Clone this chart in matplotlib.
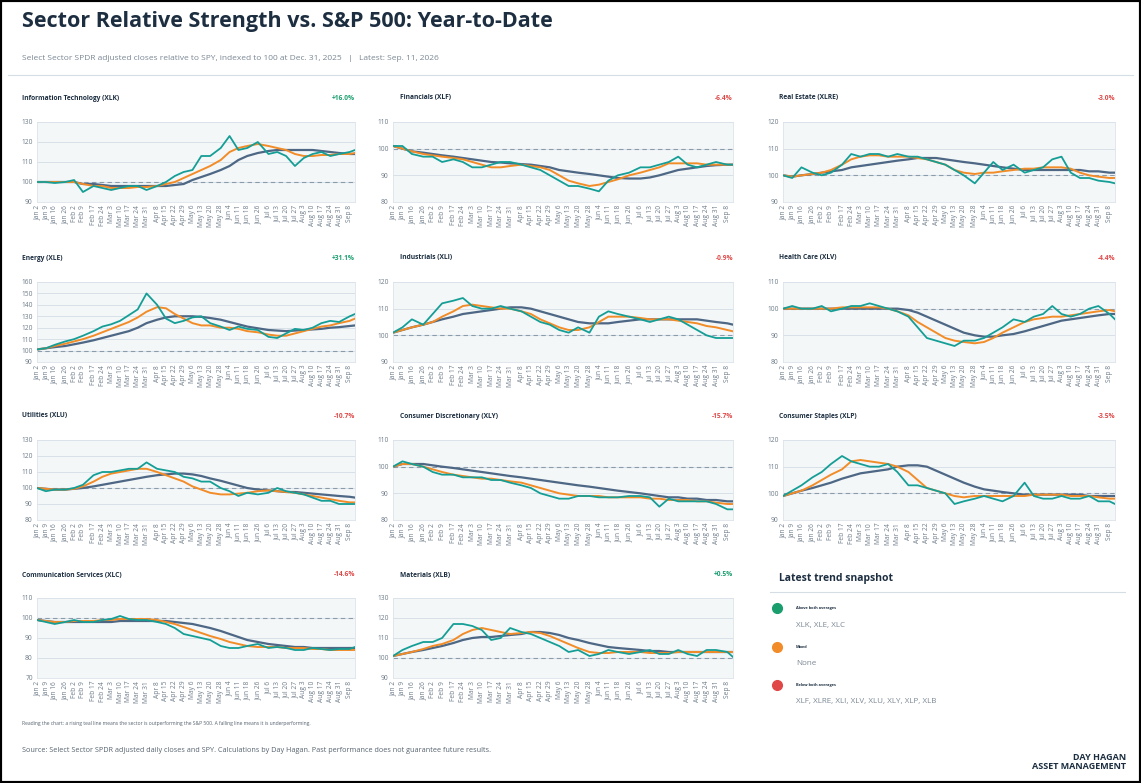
import matplotlib.pyplot as plt
import numpy as np
import pandas as pd

dates = ["2026-01-02", "2026-01-09", "2026-01-16", "2026-01-26", "2026-02-02", "2026-02-09",
         "2026-02-17", "2026-02-24", "2026-03-03", "2026-03-10", "2026-03-17", "2026-03-24",
         "2026-03-31", "2026-04-08", "2026-04-15", "2026-04-22", "2026-04-29", "2026-05-06",
         "2026-05-13", "2026-05-20", "2026-05-28", "2026-06-04", "2026-06-11", "2026-06-18",
         "2026-06-26", "2026-07-06", "2026-07-13", "2026-07-20", "2026-07-27", "2026-08-03",
         "2026-08-10", "2026-08-17", "2026-08-24", "2026-08-31", "2026-09-08", "2026-09-11"]
tick_dates = dates[:-1]

names = ["Information Technology (XLK)", "Financials (XLF)", "Real Estate (XLRE)",
         "Energy (XLE)", "Industrials (XLI)", "Health Care (XLV)",
         "Utilities (XLU)", "Consumer Discretionary (XLY)", "Consumer Staples (XLP)",
         "Communication Services (XLC)", "Materials (XLB)"]
ytd = ["+16.0%", "-6.4%", "-3.0%", "+31.1%", "-0.9%", "-4.4%", "-10.7%", "-15.7%", "-3.5%",
       "-14.6%", "+0.5%"]
ylims = [(90, 130), (80, 110), (90, 120), (90, 160), (90, 120), (80, 110),
         (80, 130), (80, 110), (90, 120), (70, 110), (90, 130)]

ratio = [
    [100,100,99.5,100,101,95,98,97,96,97,98,98,96,98,100,103,105,106,113,113,117,123,116,117,120,114,115,113,108,112,114,115,113,114,115,116],
    [101,101,98,97,97,95,96,95,93,93,94,95,95,94,93,92,90,88,86,86,85,84,88,90,91,93,93,94,95,97,94,93,94,95,94,94],
    [100,99,103,101,100,101,104,108,107,108,108,107,108,107,107,106,105,104,102,100,97,101,105,102,104,101,102,103,106,107,101,99,99,98,97.5,97],
    [101,102,105,108,110,113,117,121,123,126,131,136,150,140,128,124,126,129,130,124,121,118,121,119,118,112,111,115,119,118,120,124,126,125,130,132],
    [101,103,106,104,108,112,113,114,111,110,110,111,110,109,107,105,104,102,101,103,101,107,109,108,107,106,105,106,107,106,104,102,100,99,99,99],
    [100,101,100,100,101,99,100,101,101,102,101,100,99,97,93,89,88,87,86,88,88,89,91,93,96,95,97,98,101,98,97,98,100,101,98,96],
    [100,98,99,99,100,102,108,110,110,111,112,112,116,112,111,110,107,106,104,104,100,98,95,97,96,97,100,98,97,96,94,92,92,90,90,90],
    [100,102,101,100,98,97,97,96,96,96,95,95,94,93,92,90,89,88,88,89,89,88.5,88.5,88.5,89,89,88.5,85,88,87,87,87,87,86,84,84],
    [99,101,103,106,108,111,114,112,111,110,110,111,108,103,103,102,101,100,96,97,98,99,98,97,99,104,99,98,98,99,98,98,99,97,97,96],
    [99,98,97,98,99,98,98,99,99.5,101,99.5,99,99,98,97,95,92,91,90,89,86,85,85,86,87,85,85.5,85,84,84,85,84.5,84,84.5,84.5,85.5],
    [101,104,106,108,108,110,117,117,116,114,109,110,115,113,112,110,108,106,103,104,101,102,104,103,102,103,104,102,102,104,102,101,104,104,103,100.5],
]
ma_fast = [
    [100,100,100,100,100,99,98,98,97,97,97,97.5,97.5,98,99,100,102,104,106,108,111,115,117,118,119,118,117,116,114,113,113,113.5,113.5,114,114,114.5],
    [101,100,99,98,97.5,97,96.5,96,95,94,93,93,93.5,94,93.5,93,92,90,88,87,86,86.5,87.5,88.5,90,91,92,93,94.5,94.5,94.5,94.5,94,94,94,94],
    [100,99.5,100,100.5,101,102,104,106,107,107.5,107.5,107,107,107,106.5,106,105,104,102,101,100.5,101,101,101.5,102,102.5,102.5,103,103,103,102.5,101,100,99.5,99,99],
    [101,102,104,106,108,110,113,116,119,122,125,129,134,138,137,132,128,124,122,122,120,120,119,117,116,114,113,113,115,117,119,121,122,124,126,128],
    [101,102,103,104,105,107,109,111,111.5,111,110.5,110,110,109,108,106,104.5,103,102,102,103,105,107,107,107,106.5,106,106,106,105.5,105,104.5,103.5,103,102,101.5],
    [100,100,100,100,100,100,100.5,100.5,100.5,100.5,100.5,100,99,97.5,95,93,91,89,88,87.5,87,87.5,89,91,93,95,96,96.5,97,97,97.5,98,98.5,99,99.5,99],
    [100,99.5,99,99,99.5,101,104,107,109,110,111,112,112,110,108,106,104,101,99,97,96,96,96.5,97,98,98.5,98,97.5,97,96,95,94,93,92,91,91],
    [100,101,101,100,99,98,97,96.5,96,95.5,95.5,95,94.5,94,93,92,91,90,89.5,89,89,89,88.5,88.5,88.5,88.5,88,88,87.5,87.5,87.5,87,87,86.5,86,86],
    [99,100,101,103,105,107,109,112,112.5,112,111.5,111,110,108,105,102,101,100,99,98.5,99,99,99,99,99,99,99.5,99.5,99.5,99.5,99,99,99,98.5,98,98],
    [99,98.5,98,98,98.5,98.5,98.5,99,99,99.5,99.5,99.5,99.5,99,98,97,95.5,94,92.5,91,89.5,88,87,86,85.5,85.5,85.5,85,85,85,84.5,84.5,84,84,84,84],
    [101,102,103,104.5,106,107,109,112,114,115,114,113,112,112.5,113,112.5,111,109,107,105,103,102.5,102.5,103,103,103,102.5,102.5,102.5,103,103,103,103,103,103,103],
]
ma_slow = [
    [100,100,100,100,100,99,99,98.5,98,98,98,98,98,98,98,98.5,99,101,102.5,104,106,108,111,113,114.5,115.5,116,116,116,116,116,115.5,115,114.5,114,114],
    [101,100,99,98.5,98,97.5,97,96.5,96,95.5,95,94.8,94.5,94.2,94,93.5,93,92,91.5,91,90.5,90,89.5,89,88.8,88.8,89.2,90,91,92,92.5,93,93.5,93.8,94,94],
    [100,99.5,100,100.5,101,101.5,102,103,103.5,104,104.5,105,105.5,106,106.5,106.5,106.5,106,105.5,105,104.5,104,103.5,103,102.5,102,102,102,102,102,102,102,101.5,101.5,101,101],
    [101,102,103,104,105.5,107,109,111,113,115,117,120,124,127,129,130,130,130,129.5,128.5,127,125,123,121,119.5,118,117.5,117,117.5,118,118.5,119,120,120.5,121.5,122],
    [101,102,103,104,105,106,107,108,108.5,109,109.5,110,110.5,110.5,110,109,108,107,106,105,104.5,104.5,104.5,105,105.5,106,106,106,106,106,106,106,105.5,105,104.5,104],
    [100,100,100,100,100,100,100,100,100,100,100,100,100,99.5,98.5,97,95.5,94,92.5,91,90,89.5,89.5,90,90.5,91.5,92.5,93.5,94.5,95.5,96,96.5,97,97.5,98,98],
    [100,99.5,99,99,99.5,100,101,102,103,104,105,106,107,108,108.5,109,109,108.5,107.5,106,104.5,103,101.5,100,99,98.5,98,97.5,97.5,97,96.5,96,95.5,95,94.5,94],
    [100,101,101,101,100.5,100,99.5,99,98.5,98,97.5,97,96.5,96,95.5,95,94.5,94,93.5,93,92.5,92,91.5,91,90.5,90,89.5,89,88.5,88.5,88,88,87.5,87.5,87,87],
    [99,100,101,102,103,104,105.5,106.5,107.5,108,108.5,109,110,110.5,110.5,110,108.5,107,105.5,104,102.5,101.5,101,100.5,100,99.5,99.5,99.5,99.5,99.5,99.5,99.5,99,99,99,99],
    [99,98.5,98,98,98,98,98,98,98,98.5,98.5,98.5,98.5,98.5,98.5,98,97.5,97,96,95,93.5,92,90.5,89,88,87,86.5,86,85.5,85.5,85,85,85,85,85,85],
    [101,102,103,104,105,106,107.5,109,110,110.5,110.5,111,111.5,112,113,113,112.5,111.5,110,109,107.5,106.5,105.5,105,104.5,104,103.5,103.5,103,103,103,103,103,103,103,103],
]

snap_groups = ["Above both averages", "Mixed", "Below both averages"]
snap_members = ["XLK, XLE, XLC", "None", "XLF, XLRE, XLI, XLV, XLU, XLY, XLP, XLB"]

TEAL, ORANGE, NAVY = "#159e96", "#f28c28", "#4d6785"
DARK = "#1c2e40"
GREEN, RED = "#1a9e6e", "#e04848"
plt.rcParams['font.family'] = ['Open Sans', 'DejaVu Sans']

W, H = 1141, 783
fig = plt.figure(figsize=(W / 100, H / 100), dpi=100)
fig.patches.append(plt.Rectangle((0, 0), 1, 1, transform=fig.transFigure, fill=False,
                                 edgecolor="black", linewidth=3))

def fx(px):
    return px / W

def fy(py):
    return 1 - py / H

fig.text(fx(22), fy(22), "Sector Relative Strength vs. S&P 500: Year-to-Date", fontsize=15.5,
         fontweight="bold", color=DARK, va="center")
fig.text(fx(22), fy(58), "Select Sector SPDR adjusted closes relative to SPY, indexed to 100 at Dec. 31, 2025   |   Latest: Sep. 11, 2026",
         fontsize=6, color="#7a8794", va="center")
fig.add_artist(plt.Line2D([fx(8), fx(1133)], [fy(75), fy(75)], color="#d5dde5", lw=0.8))

# trading-day positions so the weekly ticks sit evenly like the source
d = np.array(dates, dtype="datetime64[D]")
x = np.busday_count(d[0], d)
tick_x = x[:-1]
tick_labels = [pd.Timestamp(t).strftime("%b ") + str(pd.Timestamp(t).day) for t in tick_dates]

col_left = [37, 393, 783]
col_right = [355, 733, 1115]
title_left = [22, 400, 779]
row_top = [122, 282, 440, 598]
row_title = [98, 258, 416, 575]
ax_h = 80

for i, name in enumerate(names):
    r, c = divmod(i, 3)
    ax = fig.add_axes([fx(col_left[c]), fy(row_top[r] + ax_h), fx(col_right[c] - col_left[c]), ax_h / H])
    ax.set_facecolor("#f3f7f8")
    ax.axhline(100, color="#8a9bab", lw=0.8, ls=(0, (4, 3)), zorder=1)
    ax.plot(x, ma_slow[i], color=NAVY, lw=1.6, zorder=2)
    ax.plot(x, ma_fast[i], color=ORANGE, lw=1.4, zorder=3)
    ax.plot(x, ratio[i], color=TEAL, lw=1.3, zorder=4)
    lo, hi = ylims[i]
    ax.set_ylim(lo, hi)
    ax.set_yticks(range(lo, hi + 1, 10))
    ax.set_xlim(x[0], x[-1])
    ax.set_xticks(tick_x)
    ax.set_xticklabels(tick_labels)
    ax.tick_params(axis="x", labelrotation=90, labelsize=4.8, colors="#6d7b89", length=0, pad=2)
    ax.tick_params(axis="y", labelsize=4.8, colors="#6d7b89", length=0, pad=3)
    ax.grid(axis="y", color="#d9e1e8", lw=0.7)
    ax.set_axisbelow(True)
    for s in ax.spines.values():
        s.set_color("#dce3ea")
        s.set_linewidth(0.6)
    fig.text(fx(title_left[c]), fy(row_title[r]), name, fontsize=4.8, fontweight="bold",
             color=DARK, va="center")
    fig.text(fx(col_right[c]), fy(row_title[r]), ytd[i], fontsize=4.8, fontweight="bold",
             color=GREEN if ytd[i].startswith("+") else RED, va="center", ha="right")

# snapshot panel
fig.text(fx(779), fy(579), "Latest trend snapshot", fontsize=7.5, fontweight="bold", color=DARK, va="center")
fig.add_artist(plt.Line2D([fx(770), fx(1125)], [fy(592), fy(592)], color="#d5dde5", lw=0.8))
dot_colors = [GREEN, ORANGE, RED]
for k, (grp, mem) in enumerate(zip(snap_groups, snap_members)):
    y0 = 608 + k * 38.5
    fig.add_artist(plt.Line2D([fx(777)], [fy(y0)], marker="o", markersize=7, color=dot_colors[k], lw=0))
    fig.text(fx(796), fy(y0), grp, fontsize=2.8, fontweight="bold", color=DARK, va="center")
    fig.text(fx(796), fy(y0 + 17), mem, fontsize=5.8, color="#7a8794", va="center")

fig.text(fx(22), fy(724), "Reading the chart: a rising teal line means the sector is outperforming the S&P 500. A falling line means it is underperforming.",
         fontsize=3.6, color="#55626f", va="center")
fig.text(fx(22), fy(751), "Source: Select Sector SPDR adjusted daily closes and SPY. Calculations by Day Hagan. Past performance does not guarantee future results.",
         fontsize=5.2, color="#55626f", va="center")
fig.text(fx(1126), fy(762), "DAY HAGAN\nASSET MANAGEMENT", fontsize=6.5, fontweight="bold", color=DARK,
         ha="right", va="center", linespacing=0.95)

fig.savefig("out.png", dpi=100)
